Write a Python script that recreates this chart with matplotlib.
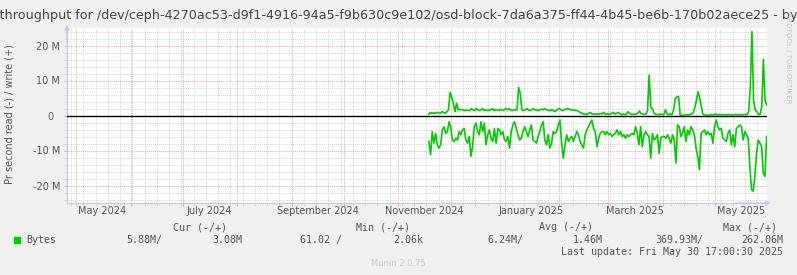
import numpy as np
import pandas as pd
import matplotlib
matplotlib.use('Agg')
import matplotlib.pyplot as plt
import matplotlib.dates as mdates
import matplotlib.transforms as mtransforms

# ---- data (values in M bytes / s) ----
title = ("Disk throughput for /dev/ceph-4270ac53-d9f1-4916-94a5-f9b630c9e102/"
         "osd-block-7da6a375-ff44-4b45-be6b-170b02aece25 - by year")
ylabel = "Pr second read (-) / write (+)"

write_m = [0.4, 0.9, 0.6, 0.8, 0.6, 0.9, 0.8, 0.6, 1.1, 0.9, 0.6, 1.1, 1.6, 6.6, 5.3, 3.5,
           1.1, 3.5, 1.6, 1.8, 1.6, 1.6, 1.4, 1.6, 1.4, 1.4, 2.0, 1.6, 1.4, 2.0, 1.6, 1.4,
           1.6, 2.0, 1.4, 1.6, 1.4, 1.6, 1.6, 2.0, 1.4, 1.6, 1.6, 1.4, 1.8, 1.4, 1.6, 2.0,
           1.6, 2.0, 1.6, 1.4, 1.6, 1.6, 1.6, 8.0, 6.3, 1.6, 1.4, 1.6, 2.0, 1.6, 1.4, 1.6,
           2.0, 1.6, 1.6, 1.4, 1.6, 1.8, 1.6, 2.0, 1.6, 1.6, 1.4, 1.6, 1.6, 1.1, 1.4, 1.8,
           2.0, 1.6, 1.4, 1.6, 1.8, 2.0, 1.8, 1.6, 1.6, 1.6, 1.4, 1.4, 1.1, 0.8, 0.6, 0.4,
           0.4, 0.4, 0.6, 0.9, 0.4, 0.4, 0.4, 0.4, 0.4, 0.6, 0.4, 0.9, 0.4, 0.4, 0.4, 0.4,
           0.6, 0.9, 0.4, 0.6, 0.9, 0.6,
           0.2, 0.4, 0.3, 0.3, 1.1, 0.6, 0.4, 0.3, 0.4, 0.4, 0.6, 1.3, 0.6, 0.4, 0.3, 0.4,
           1.4, 11.5, 2.3, 2.0, 0.6, 0.3, 0.3, 0.3, 0.4, 0.3, 0.3, 1.6, 0.4, 0.3, 0.4, 0.3,
           1.6, 4.9, 5.3, 5.5, 0.1, 0.1, 0.1, 0.1, 0.3, 0.1, 0.3, 0.4, 0.8, 2.3, 4.4, 6.8,
           4.9, 2.5, 0.3, 0.1, 0.1, 0.1, 0.1, 0.3, 0.1, 0.3, 0.4, 0.1, 0.3, 0.1, 0.3, 0.1,
           0.3, 0.1, 0.3, 0.1, 0.2, 0.1, 0.3, 0.2, 0.1, 0.3, 0.2, 0.2, 0.3, 0.2, 1.1, 8.2,
           24.0, 4.4, 1.6, 1.1, 0.3, 0.4, 2.5, 16.0, 4.4, 3.0]

read_m = [7.4, 11.2, 4.6, 7.9, 5.1, 8.4, 9.3, 8.4, 4.1, 3.2, 5.1, 4.6, 1.8, 3.2, 7.0, 7.4,
          6.5, 7.0, 4.6, 5.5, 4.1, 3.7, 7.0, 7.9, 6.0, 11.7, 8.9, 3.2, 2.2, 4.6, 5.5, 1.8,
          4.6, 2.2, 8.4, 5.5, 4.1, 6.5, 7.4, 3.7, 7.9, 3.7, 4.1, 5.5, 4.6, 7.0, 7.4, 6.0,
          9.3, 4.6, 2.7, 1.8, 3.7, 5.5, 7.0, 6.5, 4.6, 3.2, 4.6, 6.0, 4.1, 2.7, 7.0, 7.4,
          7.9, 6.0, 4.6, 2.7, 1.8, 7.0, 8.4, 5.5, 9.3, 7.9, 4.6, 5.1, 4.6, 2.7, 1.3, 7.9,
          12.2, 8.4, 5.5, 7.4, 6.5, 6.0, 7.4, 6.0, 4.6, 5.5, 7.4, 8.4, 9.3, 5.5, 4.1, 3.2,
          2.2, 1.3, 3.7, 4.6, 8.9, 6.5, 5.1, 4.6, 4.6, 5.5, 4.6, 5.5, 5.1, 6.0, 5.5, 5.1,
          4.1,
          5.5, 4.6, 6.0, 5.5, 6.5, 5.5, 6.0, 5.5, 5.1, 5.5, 3.2, 5.1, 8.4, 3.2, 8.9, 5.5,
          4.6, 5.5, 6.0, 12.2, 5.1, 7.0, 6.5, 5.5, 10.8, 6.5, 6.0, 6.0, 6.5, 5.5, 6.5, 7.9,
          5.5, 7.0, 13.6, 2.7, 3.2, 6.0, 5.1, 3.2, 7.4, 4.1, 5.5, 3.2, 4.1, 5.5, 9.3, 11.7,
          15.5, 5.1, 4.6, 4.1, 5.5, 4.6, 5.5, 5.1, 7.9, 3.2, 1.3, 3.2, 4.1, 3.7, 6.5, 7.0,
          7.4, 5.1, 4.1, 8.4, 5.5, 8.9, 3.7, 3.2, 2.7, 3.2, 7.0, 4.6, 5.5, 6.5, 14.5, 21.2,
          21.6, 17.4, 10.8, 7.0, 7.9, 8.9, 16.4, 17.4, 6.0]

data_start = pd.Timestamp('2024-11-18 12:00')
data_end = pd.Timestamp('2025-05-30 12:00')
graph_end = pd.Timestamp('2025-05-30 17:00:30')
graph_start = graph_end - pd.Timedelta(days=400)

month_labels = ['May 2024', 'July 2024', 'September 2024', 'November 2024',
                'January 2025', 'March 2025', 'May 2025']
month_label_dates = ['2024-05-16', '2024-07-16', '2024-09-16', '2024-11-16',
                     '2025-01-16', '2025-03-16', '2025-05-16']

ytick_vals = [-20, -10, 0, 10, 20]
ytick_labels = ['-20 M', '-10 M', '0  ', '10 M', '20 M']

legend_head = ['Cur (-/+)', 'Min (-/+)', 'Avg (-/+)', 'Max (-/+)']
legend_vals = ['5.88M/', '3.08M', '61.02 /', '2.06k', '6.24M/', '1.46M', '369.93M/', '262.06M']
last_update = 'Last update: Fri May 30 17:00:30 2025'

# ---- style ----
W, H = 797, 275
BG = '#F0F0F0'
GREEN = '#00CC00'
TXT = '#555555'
AXCOL = '#C4CAF4'
MGRID = '#E8A8A8'
GRID = '#D4D4D4'


def fx(x):
    return x / W


def fy(y):
    return 1 - y / H


fig = plt.figure(figsize=(W / 100, H / 100), dpi=100, facecolor=BG)
ax = fig.add_axes([fx(67), fy(203), 700 / W, 175 / H])
ax.set_facecolor('white')

wdates = pd.date_range(data_start, data_end, periods=len(write_m))
rdates = pd.date_range(data_start, data_end, periods=len(read_m))

ax.axhline(0, color='black', lw=1.0, zorder=3)
ax.plot(wdates, write_m, color=GREEN, lw=1.2, zorder=4)
ax.plot(rdates, -np.array(read_m), color=GREEN, lw=1.2, zorder=4)

ax.set_xlim(graph_start, graph_end)
ax.set_ylim(-25, 25)

# grid: month starts red, weeks gray
ax.xaxis.set_major_locator(mdates.MonthLocator())
ax.xaxis.set_minor_locator(mdates.WeekdayLocator(byweekday=mdates.SU))
ax.xaxis.set_major_formatter(plt.NullFormatter())
ax.set_yticks(ytick_vals)
ax.set_yticklabels(ytick_labels)
ax.set_yticks(np.arange(-24, 25, 2), minor=True)
ax.grid(which='minor', color=GRID, ls=(0, (1, 1)), lw=0.7)
ax.grid(which='major', color=MGRID, ls=(0, (1, 1)), lw=0.7)
ax.set_axisbelow(True)
ax.tick_params(which='major', length=2, width=0.7, color=MGRID, labelsize=7,
               labelcolor=TXT, pad=3)
ax.tick_params(which='minor', length=2, width=0.7, color=GRID)

trans = mtransforms.blended_transform_factory(ax.transData, ax.transAxes)
for lab, d in zip(month_labels, month_label_dates):
    ax.text(pd.Timestamp(d), -0.048, lab, transform=trans, ha='center', va='center',
            fontsize=7, color=TXT)

for s in ['top', 'right']:
    ax.spines[s].set_visible(False)
for s in ['left', 'bottom']:
    ax.spines[s].set_color(AXCOL)
    ax.spines[s].set_linewidth(1.0)
ax.annotate('', xy=(0, 1.035), xytext=(0, 0.9), xycoords='axes fraction',
            arrowprops=dict(arrowstyle='-|>', color=AXCOL, lw=1.0, mutation_scale=7))
ax.annotate('', xy=(1.01, 0), xytext=(0.95, 0), xycoords='axes fraction',
            arrowprops=dict(arrowstyle='-|>', color=AXCOL, lw=1.0, mutation_scale=7))

# texts (title is wider than the image, so both ends are clipped)
fig.text(fx(398.5), fy(16), title, ha='center', va='center', fontsize=9.2,
         color='#444444')
fig.text(fx(10), fy(114), ylabel, rotation=90, ha='center', va='center',
         fontsize=7, color=TXT)
fig.text(fx(788), fy(58), 'RRDTOOL / TOBI OETIKER', rotation=270, ha='center',
         va='center', fontsize=5.1, color='#C4C4C4')

mono = dict(family='DejaVu Sans Mono', fontsize=7.2, color=TXT)
for lab, x in zip(legend_head, [200, 383, 566, 750]):
    fig.text(fx(x), fy(227), lab, ha='center', va='center', **mono)
fig.patches.append(plt.Rectangle((fx(14), fy(243)), 6 / W, 6 / H, color=GREEN,
                                 transform=fig.transFigure, figure=fig))
fig.text(fx(26), fy(240), 'Bytes', ha='left', va='center', **mono)
for lab, x in zip(legend_vals, [162, 242, 342, 423, 523, 603, 703, 783]):
    fig.text(fx(x), fy(240), lab, ha='right', va='center', **mono)
fig.text(fx(783), fy(252), last_update, ha='right', va='center', **mono)
fig.text(0.5, fy(263), 'Munin 2.0.75', ha='center', va='center', fontsize=6,
         color='#C8C8C8')

fig.savefig('out.png', dpi=100, facecolor=BG)
